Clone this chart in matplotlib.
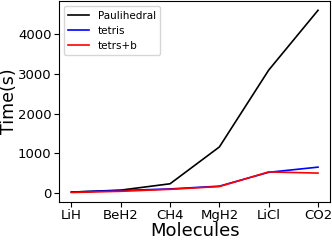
import matplotlib
matplotlib.use("Agg")
import matplotlib.pyplot as plt

molecules = ["LiH", "BeH2", "CH4", "MgH2", "LiCl", "CO2"]
paulihedral = [20, 70, 230, 1160, 3100, 4610]
tetris = [20, 60, 100, 170, 520, 650]
tetris_b = [10, 40, 90, 160, 530, 500]

fig, ax = plt.subplots(figsize=(3.32, 2.4), dpi=100)
ax.plot(molecules, paulihedral, color="black", lw=1.2, label="Paulihedral")
ax.plot(molecules, tetris, color="blue", lw=1.2, label="tetris")
ax.plot(molecules, tetris_b, color="red", lw=1.2, label="tetrs+b")

ax.set_xlabel("Molecules", fontsize=13, labelpad=0)
ax.set_ylabel("Time(s)", fontsize=12.5)
ax.yaxis.set_label_coords(-0.15, 0.5)
ax.tick_params(labelsize=9.5, pad=2)
ax.set_yticks([0, 1000, 2000, 3000, 4000])
ax.legend(fontsize=7.5, loc="upper left")

fig.subplots_adjust(left=0.178, right=0.995, top=0.995, bottom=0.16)
fig.savefig("out.png")
